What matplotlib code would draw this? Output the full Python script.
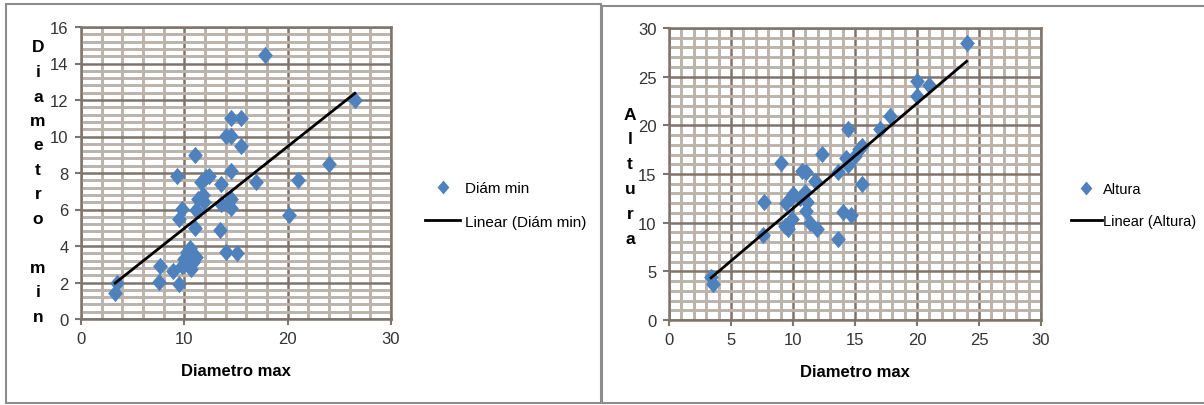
import numpy as np
import matplotlib
matplotlib.use("Agg")
import matplotlib.pyplot as plt
from matplotlib.ticker import MultipleLocator
from matplotlib.lines import Line2D
from matplotlib.patches import Rectangle
from matplotlib.path import Path

plt.rcParams['font.family'] = ['Liberation Sans', 'DejaVu Sans']

# ---- Data: left chart (Diám min vs Diametro max)
dmax_left = [3.3, 3.5, 7.5, 7.6, 8.9, 9.5, 9.3, 9.5, 9.8, 9.8, 10.0, 10.3, 10.5, 10.6,
             10.8, 11.1, 11.0, 11.0, 11.1, 11.3, 11.6, 11.8, 11.9, 12.1, 12.35, 13.5,
             13.5, 13.45, 14.0, 14.0, 14.5, 14.5, 15.5, 15.5, 14.5, 14.5, 14.5, 15.1,
             16.9, 17.8, 20.1, 21.0, 24.0, 26.5]
dmin_left = [1.43, 1.97, 2.05, 2.9, 2.65, 1.9, 7.85, 5.5, 6.05, 2.9, 3.3, 3.65, 3.9, 2.75,
             3.1, 3.4, 8.96, 5.0, 6.0, 6.6, 7.5, 6.8, 6.4, 7.8, 7.85, 7.4,
             6.3, 4.9, 3.65, 10.05, 10.05, 11.0, 11.0, 9.5, 8.1, 6.6, 6.1, 3.6,
             7.5, 14.45, 5.7, 7.6, 8.5, 12.0]

# ---- Data: right chart (Altura vs Diametro max)
dmax_right = [3.39, 3.58, 7.6, 7.7, 9.04, 9.44, 9.36, 9.63, 9.8, 10.03, 9.9, 10.6, 10.7,
              11.06, 10.98, 11.1, 11.06, 11.4, 11.8, 11.97, 12.3, 13.6, 13.6, 14.0, 14.3,
              14.47, 14.47, 14.7, 15.0, 15.3, 15.55, 15.55, 17.0, 17.8, 20.0, 20.0, 21.0, 24.0]
altura = [4.46, 3.67, 8.7, 12.15, 16.1, 12.0, 9.7, 9.34, 12.5, 12.9, 10.4, 12.5, 15.3,
          15.2, 13.1, 12.1, 11.2, 9.95, 14.3, 9.4, 17.1, 8.3, 15.2, 11.05, 16.6,
          19.6, 15.9, 10.8, 16.9, 17.6, 14.0, 17.9, 19.6, 21.0, 23.0, 24.6, 24.1, 28.45]

W, H = 1204, 406
fig = plt.figure(figsize=(W / 100, H / 100), dpi=100)

BLUE = '#4F81BD'
MAJ = '#7f746b'
MIN = '#bcb3ab'
diamond = Path([(0, 1), (0.85, 0), (0, -1), (-0.85, 0), (0, 1)],
               [Path.MOVETO, Path.LINETO, Path.LINETO, Path.LINETO, Path.CLOSEPOLY])


def px_rect(x0, y0, x1, y1):
    return [x0 / W, 1 - y1 / H, (x1 - x0) / W, (y1 - y0) / H]


def setup(ax, xmax, ymax, xmaj, xmin, ymaj, ymin):
    ax.set_xlim(0, xmax)
    ax.set_ylim(0, ymax)
    ax.xaxis.set_major_locator(MultipleLocator(xmaj))
    ax.xaxis.set_minor_locator(MultipleLocator(xmin))
    ax.yaxis.set_major_locator(MultipleLocator(ymaj))
    ax.yaxis.set_minor_locator(MultipleLocator(ymin))
    ax.grid(which='minor', color=MIN, lw=2.1, zorder=0)
    ax.grid(which='major', color=MAJ, lw=1.8, zorder=0)
    ax.set_axisbelow(True)
    for s in ax.spines.values():
        s.set_color(MAJ)
        s.set_linewidth(1.8)
    ax.tick_params(which='major', direction='out', length=4, width=1.5, color=MAJ,
                   labelsize=12, labelcolor='#333333', pad=5)
    ax.tick_params(which='minor', length=0)


def panel(ax, xs, ys, xmax, ymax, xmaj, xmin, ymaj, ymin, label, legname, ylab_x,
          ylab_y0, ylab_step, leg_anchor):
    setup(ax, xmax, ymax, xmaj, xmin, ymaj, ymin)
    xs = np.asarray(xs)
    ys = np.asarray(ys)
    ax.plot(xs, ys, linestyle='none', marker=diamond, ms=12.5, color=BLUE,
            markeredgewidth=0, zorder=3, clip_on=False)
    k, b = np.polyfit(xs, ys, 1)
    xl = np.array([xs.min(), xs.max()])
    ax.plot(xl, k * xl + b, color='black', lw=2.0, zorder=4)
    ax.set_xlabel('Diametro max', fontsize=12, fontweight='bold', labelpad=12)
    # stacked vertical y label
    for i, ch in enumerate(label):
        if ch == ' ':
            continue
        fig.text(ylab_x / W, 1 - (ylab_y0 + i * ylab_step) / H, ch, fontsize=12.5,
                 fontweight='bold', ha='center', va='center')
    handles = [Line2D([], [], linestyle='none', marker=diamond, ms=10, color=BLUE,
                      markeredgewidth=0),
               Line2D([], [], color='black', lw=2.0)]
    names = [legname, 'Linear (%s)' % legname]
    fig.legend(handles, names, loc='center left',
               bbox_to_anchor=(leg_anchor[0] / W, 1 - leg_anchor[1] / H),
               frameon=False, fontsize=leg_anchor[4], borderpad=0, borderaxespad=0,
               handlelength=leg_anchor[2], handletextpad=leg_anchor[3],
               labelspacing=1.25)


# panel frames
fig.add_artist(Rectangle((6 / W, 1 - 404 / H), (601 - 6) / W, (404 - 5) / H,
                         transform=fig.transFigure, fill=False, ec='#8c8c8c', lw=1.5))
fig.add_artist(Rectangle((602 / W, 1 - 404 / H), (1210 - 602) / W, (404 - 7) / H,
                         transform=fig.transFigure, fill=False, ec='#8c8c8c', lw=1.5))

ax1 = fig.add_axes(px_rect(81, 28, 391, 320))
panel(ax1, dmax_left, dmin_left, 30, 16, 10, 2, 2, 0.4, 'Diametro min', 'Diám min',
      38, 48, 24.5, (425, 206, 2.3, 0.3, 11))

ax2 = fig.add_axes(px_rect(669, 29, 1041, 321))
panel(ax2, dmax_right, altura, 30, 30, 5, 1, 5, 1, 'Altura', 'Altura',
      630, 115, 25, (1071, 206, 2.1, 0.12, 10.5))

fig.savefig('out.png', dpi=100)
